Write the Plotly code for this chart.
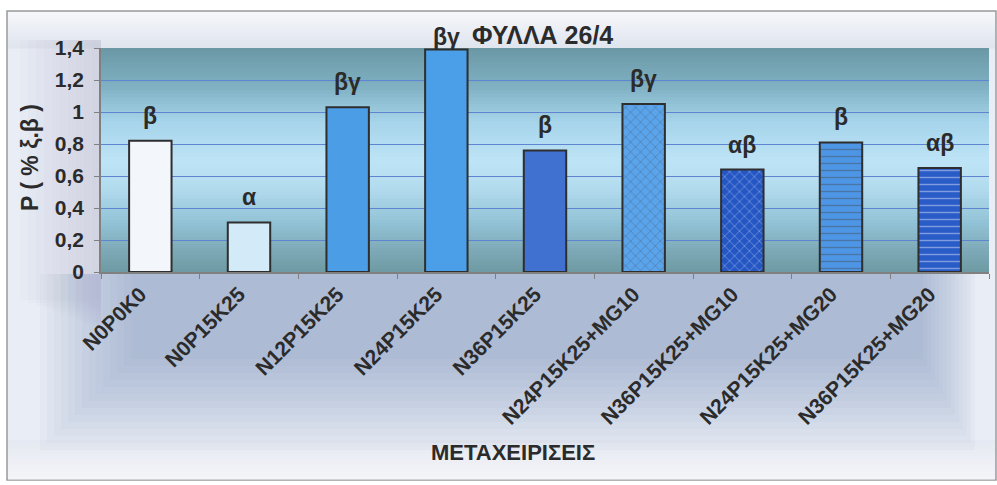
import plotly.graph_objects as go

categories = ["N0P0K0", "N0P15K25", "N12P15K25", "N24P15K25", "N36P15K25",
              "N24P15K25+MG10", "N36P15K25+MG10", "N24P15K25+MG20", "N36P15K25+MG20"]
values = [0.82, 0.31, 1.03, 1.39, 0.76, 1.05, 0.64, 0.81, 0.65]
letters = ["β", "α", "βγ", "βγ", "β", "βγ", "αβ", "β", "αβ"]

bar_colors = ["#f3f7fc", "#d3eaf8", "#4b9de6", "#4a9fe8", "#4070d0",
              "#5aa4ec", "#2456c4", "#4d96e6", "#2a5cc8"]
pattern_shapes = ["", "", "", "", "", "x", "x", "-", "-"]
pattern_fg = ["#ffffff", "#ffffff", "#ffffff", "#ffffff", "#ffffff",
              "#3a7fd4", "#5a8ae4", "#7ab4f0", "#4a7ada"]

W, H = 997, 485
L, R, T, B = 101, 8, 48, 213
pw, ph = W - L - R, H - T - B
FONT = "Liberation Sans"
TXT = "#2b2b2b"


def px(x):
    return (x - L) / pw


def py(y):
    return (H - B - y) / ph


def lerp(c1, c2, t):
    a = [int(c1[i:i + 2], 16) for i in (1, 3, 5)]
    b = [int(c2[i:i + 2], 16) for i in (1, 3, 5)]
    return "#%02x%02x%02x" % tuple(round(a[k] + (b[k] - a[k]) * t) for k in range(3))


def grad(stops, n):
    out = []
    for i in range(n):
        t = (i + 0.5) / n
        for j in range(len(stops) - 1):
            if stops[j][0] <= t <= stops[j + 1][0]:
                tt = (t - stops[j][0]) / (stops[j + 1][0] - stops[j][0])
                out.append(lerp(stops[j][1], stops[j + 1][1], tt))
                break
    return out


shapes = []
# outer frame background
shapes.append(dict(type="rect", xref="paper", yref="paper", x0=px(7), x1=px(996), y0=py(480), y1=py(11),
                   fillcolor="#e9edf5", line=dict(color="#9a9a9a", width=1.5), layer="below"))
# top band gradient
nt = 14
top_cols = grad([(0, "#f6f7fa"), (1, "#dfe4ee")], nt)
for i, c in enumerate(top_cols):
    y0 = 12 + i * (36 / nt)
    shapes.append(dict(type="rect", xref="paper", yref="paper", x0=px(8), x1=px(995),
                       y0=py(y0 + 36 / nt + 0.5), y1=py(y0), fillcolor=c, line=dict(width=0), layer="below"))
# bottom band fading to light
nb = 12
bot_cols = grad([(0, "#e4e8f1"), (1, "#f4f5f8")], nb)
for i, c in enumerate(bot_cols):
    y0 = 440 + i * (39 / nb)
    shapes.append(dict(type="rect", xref="paper", yref="paper", x0=px(8), x1=px(995),
                       y0=py(y0 + 39 / nb + 0.5), y1=py(y0), fillcolor=c, line=dict(width=0), layer="below"))
# soft bluish vignette below plot
for k in range(14):
    shapes.append(dict(type="rect", xref="paper", yref="paper",
                       x0=px(40 + k * 7), x1=px(975 - k * 4), y0=py(450 - k * 7), y1=py(274),
                       fillcolor="rgba(110,130,190,0.045)", line=dict(width=0), layer="below"))
# soft left strip near axis
for k in range(10):
    shapes.append(dict(type="rect", xref="paper", yref="paper",
                       x0=px(20 + k * 8), x1=px(101), y0=py(300 + k * 3), y1=py(40),
                       fillcolor="rgba(160,175,205,0.03)", line=dict(width=0), layer="below"))

# plot area gradient (top -> bottom)
n = 64
pcols = grad([(0, "#6b97a5"), (0.18, "#80b2c4"), (0.33, "#a6d4ea"), (0.5, "#bde3f6"),
              (0.62, "#b4dcef"), (0.78, "#92c2d6"), (0.9, "#7eaab8"), (1, "#6e9aa3")], n)
for i, c in enumerate(pcols):
    shapes.append(dict(type="rect", xref="paper", yref="paper", x0=0, x1=1,
                       y0=1 - (i + 1) / n - 0.002, y1=1 - i / n, fillcolor=c,
                       line=dict(width=0), layer="below"))

fig = go.Figure()
fig.add_trace(go.Bar(
    x=categories, y=values,
    marker=dict(color=bar_colors, line=dict(color="#2e2e2e", width=2),
                pattern=dict(shape=pattern_shapes, fgcolor=pattern_fg, size=7,
                             solidity=0.2, fgopacity=0.4)),
    width=0.43,
))

annotations = []
for c, v, t in zip(categories, values, letters):
    annotations.append(dict(x=c, y=v, xref="x", yref="y", text="<b>" + t + "</b>", showarrow=False,
                            yshift=25 if v < 1.3 else 13, xanchor="center", yanchor="middle",
                            font=dict(family=FONT, size=23, color=TXT)))
annotations.append(dict(x=px(542), y=py(35), xref="paper", yref="paper", text="<b>ΦΥΛΛΑ 26/4</b>",
                        xanchor="center", yanchor="middle",
                        showarrow=False, font=dict(family=FONT, size=25, color=TXT)))
annotations.append(dict(x=px(513), y=py(452), xref="paper", yref="paper", text="<b>ΜΕΤΑΧΕΙΡΙΣΕΙΣ</b>",
                        xanchor="center", yanchor="middle",
                        showarrow=False, font=dict(family=FONT, size=22, color=TXT)))
annotations.append(dict(x=px(30), y=py(158), xref="paper", yref="paper", text="<b>P ( % ξ.β )</b>",
                        xanchor="center", yanchor="middle",
                        showarrow=False, textangle=-90,
                        font=dict(family=FONT, size=23, color=TXT)))

fig.update_layout(
    width=W, height=H,
    margin=dict(l=L, r=R, t=T, b=B, autoexpand=False),
    paper_bgcolor="#ffffff",
    plot_bgcolor="rgba(0,0,0,0)",
    separators=",.",
    showlegend=False,
    shapes=shapes,
    annotations=annotations,
    font=dict(family=FONT, color=TXT),
    xaxis=dict(type="category", tickson="boundaries", ticks="outside", ticklen=5,
               tickcolor="#808080", showline=True, linecolor="#808080", linewidth=1.5,
               tickangle=-45, showgrid=False, automargin=False, ticklabelshift=-10,
               tickfont=dict(family=FONT, size=21, color=TXT, weight="bold")),
    yaxis=dict(range=[0, 1.4], dtick=0.2, ticks="outside", ticklen=5, tickcolor="#808080",
               showline=True, linecolor="#808080", linewidth=1.5, automargin=False,
               ticklabelstandoff=6,
               showgrid=True, gridcolor="#5f84d2", gridwidth=1, zeroline=False,
               tickfont=dict(family=FONT, size=21, color=TXT, weight="bold")),
)

fig.write_html("out.html", config={"displayModeBar": False},
               post_script="document.body.style.margin='0';document.body.style.padding='0';"
                           "document.body.style.overflow='hidden';")
